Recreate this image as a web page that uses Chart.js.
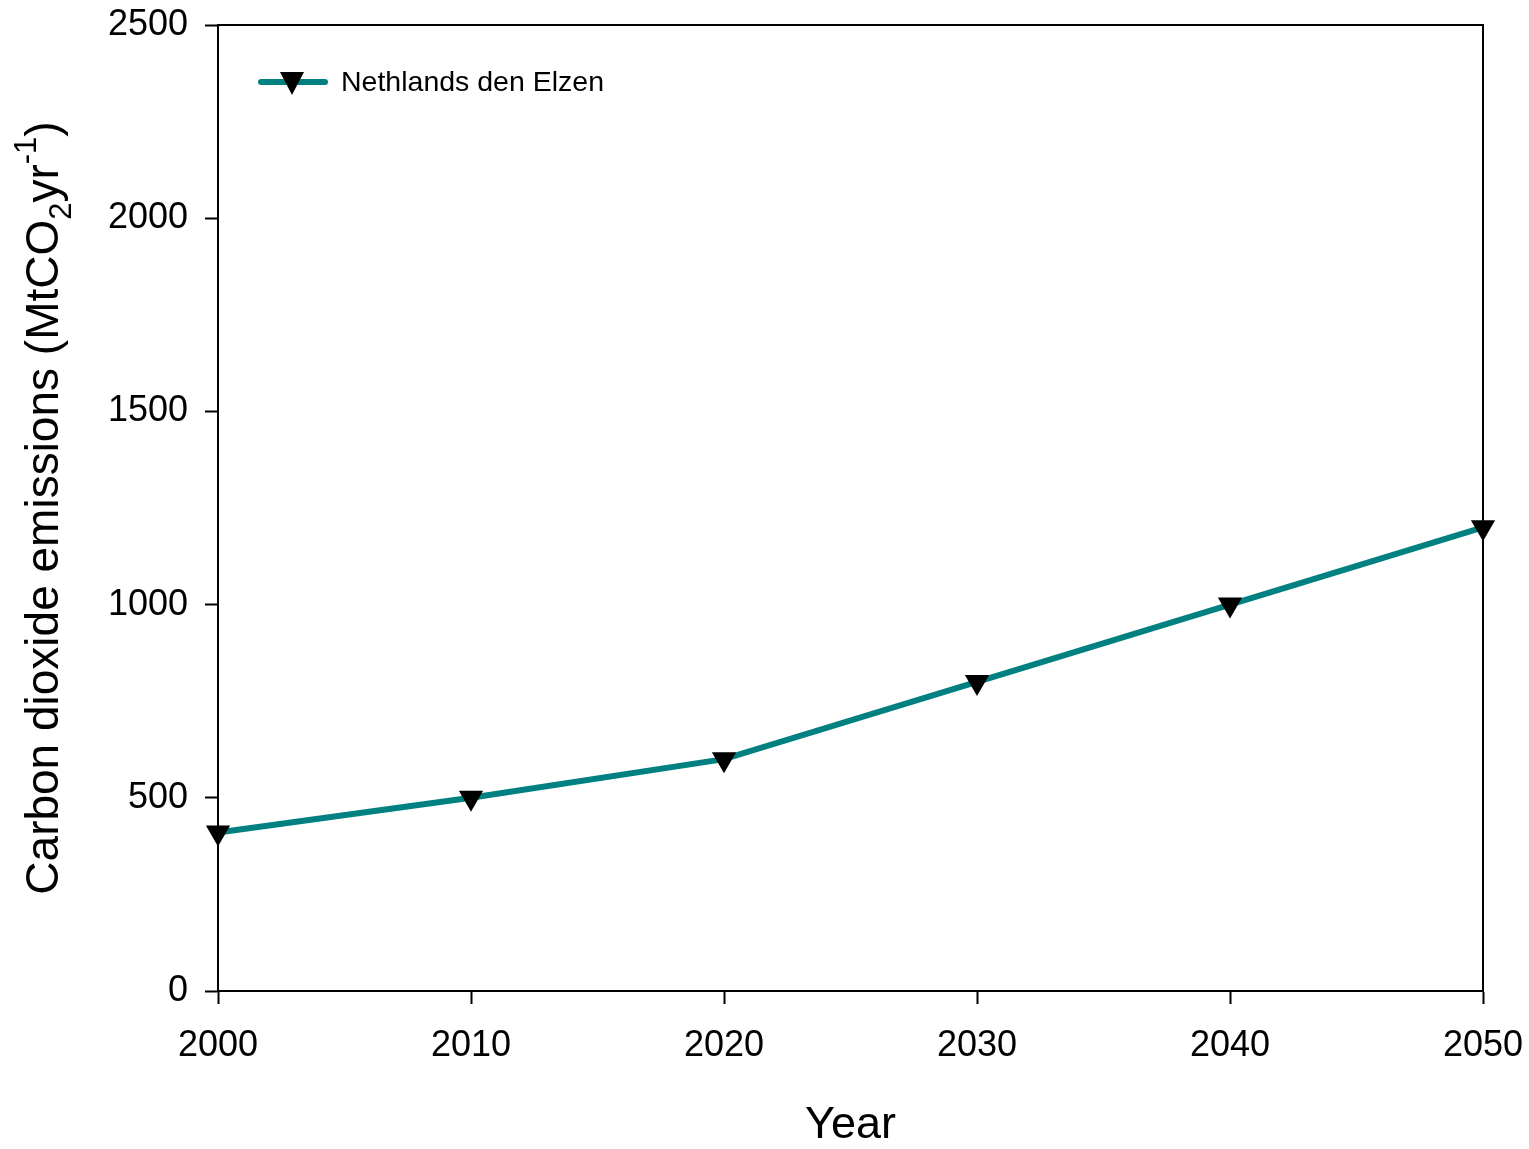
<!DOCTYPE html>
<html>
<head>
<meta charset="utf-8">
<script src="https://cdn.jsdelivr.net/npm/chart.js@4"></script>
<style>
  html, body { margin: 0; padding: 0; background: #fff; }
  #wrap { width: 1529px; height: 1149px; }
</style>
</head>
<body>
<div id="wrap"><canvas id="c" width="1529" height="1149"></canvas></div>
<script>
// Emission path, MtCO2 per year
const years = [2000, 2010, 2020, 2030, 2040, 2050];
const emissions = [410, 500, 600, 800, 1000, 1200];
const seriesName = 'Nethlands den Elzen';
const yTicks = [0, 500, 1000, 1500, 2000, 2500];
const xTitle = 'Year';

const FONT = '"Liberation Sans", Arial, sans-serif';
const TEAL = '#008080';

// Frame, legend and the rotated y title with sub/superscripts
const decor = {
  id: 'decor',
  afterDraw(chart) {
    const ctx = chart.ctx;
    const a = chart.chartArea;
    ctx.save();
    ctx.strokeStyle = '#000';
    ctx.lineWidth = 2;
    ctx.strokeRect(a.left, a.top, a.right - a.left, a.bottom - a.top);

    // legend entry
    const ly = 82;
    ctx.strokeStyle = TEAL;
    ctx.lineWidth = 6;
    ctx.lineCap = 'round';
    ctx.beginPath();
    ctx.moveTo(261, ly);
    ctx.lineTo(325, ly);
    ctx.stroke();
    ctx.fillStyle = '#000';
    ctx.beginPath();
    ctx.moveTo(280, ly - 10);
    ctx.lineTo(304, ly - 10);
    ctx.lineTo(292, ly + 13);
    ctx.closePath();
    ctx.fill();
    ctx.font = '28.5px ' + FONT;
    ctx.textBaseline = 'middle';
    ctx.textAlign = 'left';
    ctx.fillText(seriesName, 341, ly + 1);

    // x title
    ctx.font = '45px ' + FONT;
    ctx.textAlign = 'center';
    ctx.fillText(xTitle, (a.left + a.right) / 2, 1126);

    // y title
    const parts = [
      { t: 'Carbon dioxide emissions (MtCO', size: 46, dy: 0 },
      { t: '2', size: 31, dy: 13 },
      { t: 'yr', size: 46, dy: 0 },
      { t: '-1', size: 31, dy: -22 },
      { t: ')', size: 46, dy: 0 }
    ];
    let total = 0;
    parts.forEach(p => { ctx.font = p.size + 'px ' + FONT; p.w = ctx.measureText(p.t).width; total += p.w; });
    ctx.translate(42, (a.top + a.bottom) / 2);
    ctx.rotate(-Math.PI / 2);
    ctx.textAlign = 'left';
    ctx.textBaseline = 'alphabetic';
    let x = -total / 2;
    parts.forEach(p => {
      ctx.font = p.size + 'px ' + FONT;
      ctx.fillText(p.t, x, 16 + p.dy);
      x += p.w;
    });
    ctx.restore();
  }
};

// scale sizes are fixed so the plot box sits at a known spot
function fixBox(size) {
  return function (s) {
    if (s.isHorizontal()) s.height = size; else s.width = size;
    s.paddingLeft = s.paddingRight = s.paddingTop = s.paddingBottom = 0;
  };
}

new Chart(document.getElementById('c'), {
  type: 'line',
  data: {
    labels: years,
    datasets: [{
      label: seriesName,
      data: emissions,
      borderColor: TEAL,
      borderWidth: 6,
      backgroundColor: '#000',
      pointStyle: 'triangle',
      pointRotation: 180,
      pointRadius: 14,
      pointBorderWidth: 0,
      pointBackgroundColor: '#000',
      pointBorderColor: '#000',
      tension: 0,
      clip: false
    }]
  },
  options: {
    responsive: false,
    animation: false,
    layout: { padding: { left: 0, right: 46, top: 25, bottom: 0 } },
    plugins: { legend: { display: false }, tooltip: { enabled: false } },
    scales: {
      x: {
        type: 'linear',
        min: 2000, max: 2050,
        afterFit: fixBox(158),
        afterBuildTicks(s) { s.ticks = years.map(v => ({ value: v })); },
        grid: { drawOnChartArea: false, drawTicks: true, tickLength: 13, tickWidth: 2, tickColor: '#000' },
        border: { display: true, color: '#000', width: 2 },
        ticks: { color: '#000', font: { family: FONT, size: 36 }, padding: 20, maxRotation: 0, callback: v => String(v) }
      },
      y: {
        min: 0, max: 2500,
        afterFit: fixBox(218),
        afterBuildTicks(s) { s.ticks = yTicks.map(v => ({ value: v })); },
        grid: { drawOnChartArea: false, drawTicks: true, tickLength: 13, tickWidth: 2, tickColor: '#000' },
        border: { display: true, color: '#000', width: 2 },
        ticks: { color: '#000', font: { family: FONT, size: 36 }, padding: 17, callback: v => String(v) }
      }
    }
  },
  plugins: [decor]
});
</script>
</body>
</html>
